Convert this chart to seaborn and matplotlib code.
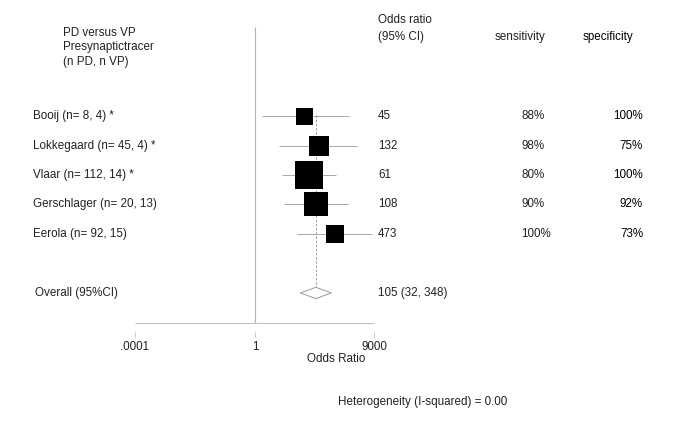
import matplotlib
matplotlib.use("Agg")
import matplotlib.pyplot as plt
import matplotlib.transforms as mtransforms
from matplotlib.patches import Polygon
import numpy as np
import pandas as pd
import seaborn as sns

# data
studies = [
    "Booij (n= 8, 4) *",
    "Lokkegaard (n= 45, 4) *",
    "Vlaar (n= 112, 14) *",
    "Gerschlager (n= 20, 13)",
    "Eerola (n= 92, 15)",
]
odds_ratio = [45, 132, 61, 108, 473]
ci_low = [1.7, 6.5, 8.1, 9.4, 25]
ci_high = [1300, 2500, 490, 1200, 7800]
weight_pct = [12.2, 16.9, 33.0, 24.3, 13.7]
sensitivity = ["88%", "98%", "80%", "90%", "100%"]
specificity = ["100%", "75%", "100%", "92%", "73%"]
overall_or = 105
overall_low = 32
overall_high = 348
x_ticks = [0.0001, 1, 9000]
x_tick_labels = [".0001", "1", "9000"]
i_squared = 0.00

sns.set_style("white")
plt.rcParams["font.family"] = ["Liberation Sans", "DejaVu Sans"]
plt.rcParams["font.size"] = 8.4

W, H = 685, 436
fig = plt.figure(figsize=(W / 100, H / 100), dpi=100)
# plot area in pixels: x 134..374, y 27..323
ax = fig.add_axes([134.5 / W, 1 - 323 / H, (374 - 134.5) / W, (323 - 27) / H])

df = pd.DataFrame({"study": studies, "or": odds_ratio, "lo": ci_low,
                   "hi": ci_high, "w": weight_pct})
df["row"] = np.arange(len(df))
overall_row = len(df) + 1

line_grey = "#a8a8a8"
text_col = "#222222"

ax.set_xscale("log")
ax.set_xlim(x_ticks[0], x_ticks[-1])
ax.set_ylim(7.02, -3.02)

# null line
ax.vlines(1, -3.02, 7.02, color="#b5b5b5", lw=0.8)
# confidence intervals
ax.hlines(df["row"], df["lo"], df["hi"], color=line_grey, lw=0.7, zorder=2)
# dashed overall line
ax.vlines(overall_or, -0.05, overall_row + 0.2, color="#8c8c8c", lw=0.6,
          linestyles=(0, (3, 2)), zorder=1)
# weighted squares
k = 12.3
sns.scatterplot(data=df, x="or", y="row", size="w",
                sizes=(k * min(weight_pct), k * max(weight_pct)),
                size_norm=(min(weight_pct), max(weight_pct)),
                marker="s", color="black", linewidth=0, legend=False,
                zorder=3, ax=ax)
# overall diamond
diamond = Polygon([(overall_low, overall_row), (overall_or, overall_row - 0.19),
                   (overall_high, overall_row), (overall_or, overall_row + 0.19)],
                  closed=True, facecolor="white", edgecolor="#9a9a9a", lw=0.7,
                  zorder=3)
ax.add_patch(diamond)

# axis styling
for s in ["top", "right", "left"]:
    ax.spines[s].set_visible(False)
ax.spines["bottom"].set_position(("outward", 6.5))
ax.spines["bottom"].set_color("none")
ax.hlines(7.02, x_ticks[0], x_ticks[-1], color="#c0c0c0", lw=0.8, clip_on=False)
ax.set_xticks(x_ticks)
ax.set_xticklabels(x_tick_labels)
ax.xaxis.set_minor_locator(matplotlib.ticker.NullLocator())
ax.tick_params(axis="x", bottom=True, direction="out", length=3.6, width=0.6,
               color="#c0c0c0", pad=2.5, labelsize=8.4, labelcolor=text_col)
ax.set_yticks([])
ax.set_xlabel("")
ax.set_ylabel("")

trans = mtransforms.blended_transform_factory(fig.transFigure, ax.transData)

# left labels
for r, name in zip(df["row"], df["study"]):
    fig.text(33 / W, r, name, transform=trans, va="center", ha="left", color=text_col)
fig.text(35 / W, overall_row, "Overall (95%CI)", transform=trans, va="center",
         ha="left", color=text_col)

# right columns
for r, o, se, sp in zip(df["row"], df["or"], sensitivity, specificity):
    fig.text(378 / W, r, f"{o}", transform=trans, va="center", ha="left", color=text_col)
    fig.text(521 / W, r, se, transform=trans, va="center", ha="left", color=text_col)
    fig.text(643 / W, r, sp, transform=trans, va="center", ha="right", color="black")
fig.text(378 / W, overall_row, f"{overall_or} ({overall_low}, {overall_high})",
         transform=trans, va="center", ha="left", color=text_col)

# headers
fig.text(63 / W, 1 - 27 / H, "PD versus VP\nPresynaptictracer\n(n PD, n VP)",
         va="top", ha="left", linespacing=1.25, color=text_col)
fig.text(378 / W, 1 - 20 / H, "Odds ratio", va="center", ha="left", color=text_col)
fig.text(378 / W, 1 - 37 / H, "(95% CI)", va="center", ha="left", color=text_col)
fig.text(495 / W, 1 - 37 / H, "sensitivity", va="center", ha="left", color=text_col)
fig.text(583 / W, 1 - 37 / H, "specificity", va="center", ha="left", color="black")

fig.text(336 / W, 1 - 359 / H, "Odds Ratio", va="center", ha="center", color=text_col)
fig.text(338 / W, 1 - 402 / H, f"Heterogeneity (I-squared) = {i_squared:.2f}",
         va="center", ha="left", color=text_col)

fig.savefig("out.png", dpi=100)
